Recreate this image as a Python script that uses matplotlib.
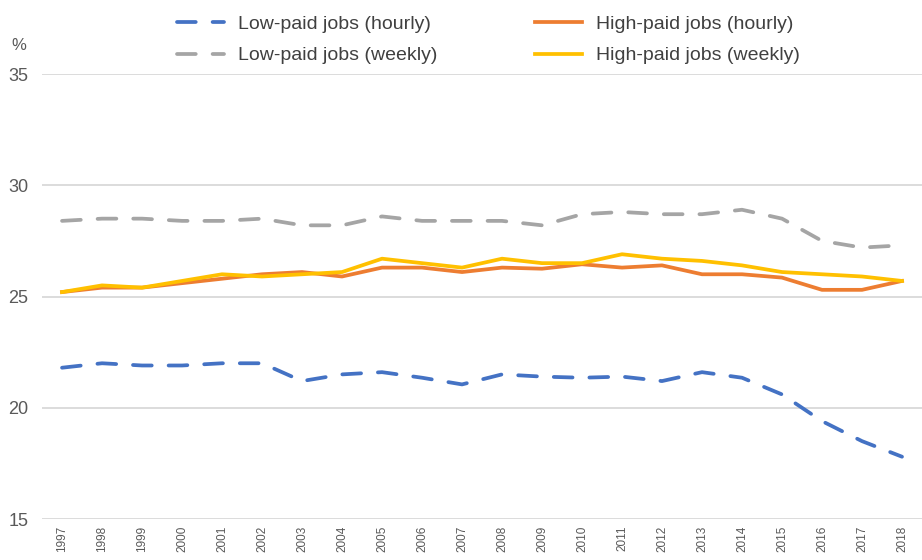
import matplotlib.pyplot as plt

years = [str(y) for y in range(1997, 2019)]

low_hourly = [21.8, 22.0, 21.9, 21.9, 22.0, 22.0, 21.2, 21.5, 21.6, 21.35, 21.05,
              21.5, 21.4, 21.35, 21.4, 21.2, 21.6, 21.35, 20.6, 19.4, 18.5, 17.8]
high_hourly = [25.2, 25.4, 25.4, 25.6, 25.8, 26.0, 26.1, 25.9, 26.3, 26.3, 26.1,
               26.3, 26.25, 26.45, 26.3, 26.4, 26.0, 26.0, 25.85, 25.3, 25.3, 25.7]
low_weekly = [28.4, 28.5, 28.5, 28.4, 28.4, 28.5, 28.2, 28.2, 28.6, 28.4, 28.4,
              28.4, 28.2, 28.7, 28.8, 28.7, 28.7, 28.9, 28.5, 27.5, 27.2, 27.3]
high_weekly = [25.2, 25.5, 25.4, 25.7, 26.0, 25.9, 26.0, 26.1, 26.7, 26.5, 26.3,
               26.7, 26.5, 26.5, 26.9, 26.7, 26.6, 26.4, 26.1, 26.0, 25.9, 25.7]

plt.rcParams['font.family'] = ['Liberation Sans', 'DejaVu Sans']

fig = plt.figure(figsize=(9.22, 5.6), dpi=100)
ax = fig.add_axes([0.0456, 0.0732, 0.9544, 0.7946])

x = range(len(years))
lw = 2.7
l1, = ax.plot(x, low_hourly, color='#4472C4', lw=lw, dashes=(5, 4.5),
              dash_capstyle='round', label='Low-paid jobs (hourly)')
l2, = ax.plot(x, high_hourly, color='#ED7D31', lw=lw, label='High-paid jobs (hourly)')
l3, = ax.plot(x, low_weekly, color='#A5A5A5', lw=lw, dashes=(5, 4.5),
              dash_capstyle='round', label='Low-paid jobs (weekly)')
l4, = ax.plot(x, high_weekly, color='#FFC000', lw=lw, label='High-paid jobs (weekly)')

ax.set_xlim(-0.5, len(years) - 0.5)
ax.set_ylim(15, 35)
ax.set_yticks([15, 20, 25, 30, 35])
ax.set_xticks(list(x))
ax.set_xticklabels(years, rotation=90, fontsize=8.5, color='#595959')
ax.tick_params(axis='y', labelsize=13, colors='#595959', length=0, pad=10)
ax.tick_params(axis='x', length=0, pad=5)
ax.grid(axis='y', color='#D9D9D9', lw=1.3)
ax.set_axisbelow(True)
for s in ax.spines.values():
    s.set_visible(False)

fig.text(0.012, 0.91, '%', fontsize=12, color='#595959')

# column-first fill, so order handles to get hourly on row 1, weekly on row 2
fig.legend([l1, l3, l2, l4], [l.get_label() for l in (l1, l3, l2, l4)],
           loc='upper center', bbox_to_anchor=(0.53, 1.004), ncol=2, frameon=False,
           fontsize=14, handlelength=2.4, handletextpad=0.75, columnspacing=5.0,
           labelspacing=0.72, labelcolor='#404040')

fig.savefig('out.png', dpi=100)
